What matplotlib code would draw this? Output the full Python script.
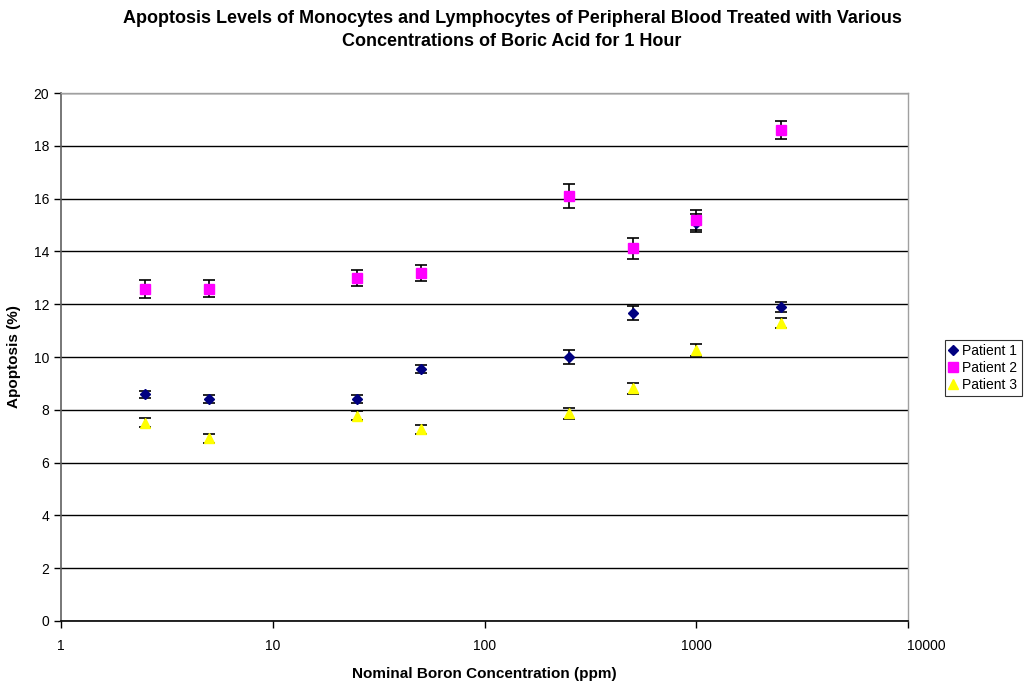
import matplotlib
matplotlib.use("Agg")
import matplotlib.pyplot as plt
import matplotlib.transforms as mtransforms
from matplotlib.ticker import FixedLocator, NullLocator

plt.rcParams['font.family'] = ['Liberation Sans', 'DejaVu Sans']

concentration = [2.5, 5, 25, 50, 250, 500, 1000, 2500]
patient1 = [8.58, 8.42, 8.42, 9.55, 10.0, 11.67, 15.08, 11.9]
patient1_err = [0.15, 0.15, 0.15, 0.15, 0.28, 0.26, 0.33, 0.19]
patient2 = [12.58, 12.59, 13.0, 13.19, 16.1, 14.12, 15.18, 18.6]
patient2_err = [0.34, 0.32, 0.3, 0.3, 0.45, 0.39, 0.38, 0.35]
patient3 = [7.51, 6.92, 7.78, 7.26, 7.87, 8.81, 10.26, 11.27]
patient3_err = [0.17, 0.16, 0.16, 0.17, 0.2, 0.22, 0.24, 0.19]

x_ticks = [1, 10, 100, 1000, 10000]
x_tick_labels = ["1", "10", "100", "1000", "10000"]

series = [
    ("Patient 1", patient1, patient1_err, "D", "#000080", 5.5),
    ("Patient 2", patient2, patient2_err, "s", "#FF00FF", 7),
    ("Patient 3", patient3, patient3_err, "^", "#FFFF00", 7),
]

fig = plt.figure(figsize=(10.29, 6.84), dpi=100)
ax = fig.add_axes([61/1029, 63/684, 847/1029, 528/684])

for label, vals, errs, mk, col, ms in series:
    ax.errorbar(concentration, vals, yerr=errs, fmt="none", ecolor="#000000",
                elinewidth=1.2, capsize=4, capthick=1.2, zorder=3)
    ax.plot(concentration, vals, linestyle="none", marker=mk, markersize=ms,
            markerfacecolor=col, markeredgecolor=col, label=label, zorder=4)

ax.set_xscale("log")
ax.set_xlim(1, 10000)
ax.set_ylim(0, 20)
ax.xaxis.set_major_locator(FixedLocator(x_ticks))
ax.xaxis.set_minor_locator(NullLocator())
ax.set_xticklabels(x_tick_labels)
ax.set_yticks(range(0, 21, 2))

ax.yaxis.grid(True, color="#000000", linewidth=1.0)
ax.set_axisbelow(True)

for side in ("top", "right"):
    ax.spines[side].set_color("#a0a0a0")
    ax.spines[side].set_linewidth(1.0)
ax.spines["left"].set_color("#606060")
ax.spines["left"].set_linewidth(1.2)
ax.spines["bottom"].set_color("#000000")
ax.spines["bottom"].set_linewidth(1.2)

ax.tick_params(axis="both", direction="out", length=5, width=1, labelsize=10,
               colors="#000000")
ax.tick_params(axis="x", pad=8)

# the last decade label sits a little to the right of its tick
last = ax.get_xticklabels()[-1]
last.set_transform(last.get_transform() +
                   mtransforms.ScaledTranslation(18/100, 0, fig.dpi_scale_trans))

ax.set_xlabel("Nominal Boron Concentration (ppm)", fontsize=11,
              fontweight="bold", labelpad=10)
ax.set_ylabel("Apoptosis (%)", fontsize=11, fontweight="bold", labelpad=9)

fig.text(512/1029, 1 - 30/684,
         "Apoptosis Levels of Monocytes and Lymphocytes of Peripheral Blood Treated with Various\n"
         "Concentrations of Boric Acid for 1 Hour",
         ha="center", va="center", fontsize=13, fontweight="bold", linespacing=1.45)

leg = ax.legend(loc="upper left", bbox_to_anchor=(945/1029, 1 - 340/684),
                bbox_transform=fig.transFigure, frameon=True, fancybox=False,
                fontsize=10, handlelength=0.6, handletextpad=0.35,
                borderpad=0.3, labelspacing=0.2, borderaxespad=0)
leg.get_frame().set_edgecolor("#000000")
leg.get_frame().set_linewidth(0.8)

fig.savefig("out.png", dpi=100)
